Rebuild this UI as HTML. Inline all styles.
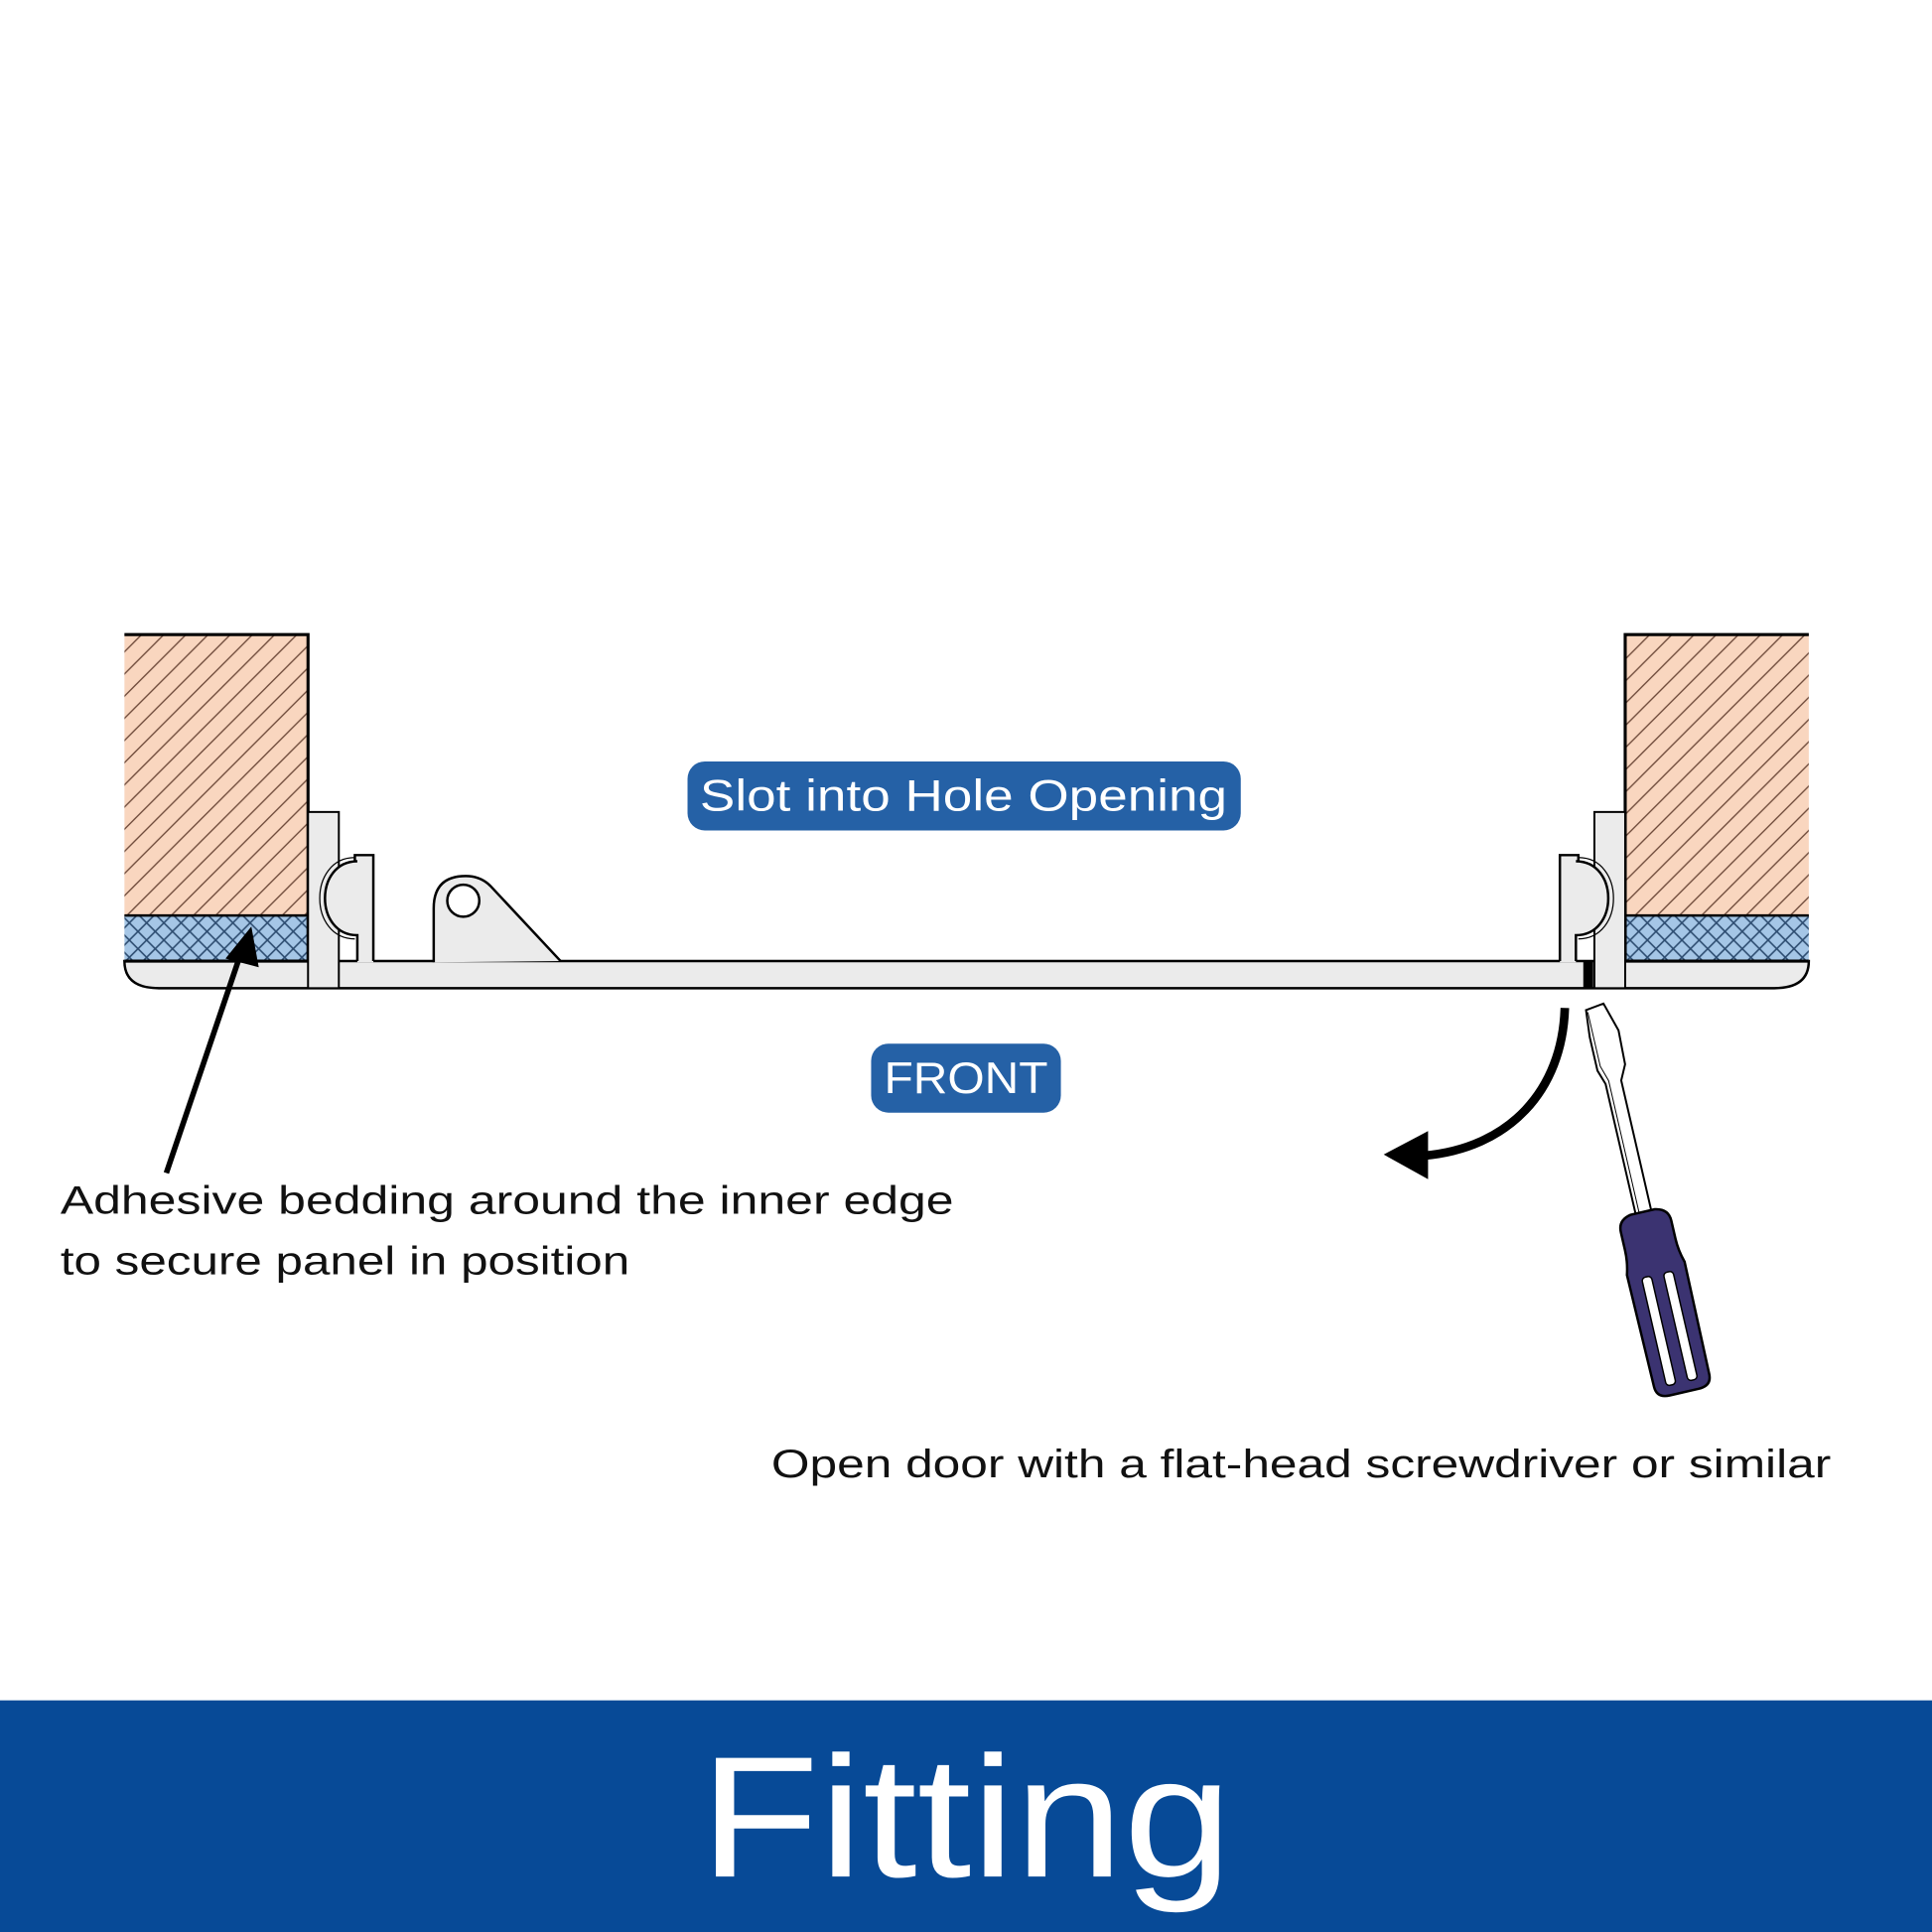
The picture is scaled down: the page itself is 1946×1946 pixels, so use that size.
<!DOCTYPE html>
<html><head><meta charset="utf-8"><style>
html,body{margin:0;padding:0;background:#fff}
svg{display:block}
</style></head><body>
<svg width="1946" height="1946" viewBox="0 0 1568 1568" xmlns="http://www.w3.org/2000/svg">
<defs>
<pattern id="hatch" patternUnits="userSpaceOnUse" width="18" height="18">
<rect width="18" height="18" fill="#f9d6bf"/>
<path d="M-1,1 L1,-1 M0,18 L18,0 M17,19 L19,17" stroke="#6e4a3a" stroke-width="1.1"/>
</pattern>
<pattern id="cross" patternUnits="userSpaceOnUse" width="14" height="14">
<rect width="14" height="14" fill="#a5c6e6"/>
<path d="M0,0 L14,14 M14,0 L0,14" stroke="#2d4c70" stroke-width="1.3"/>
</pattern>
<g id="clip">
<rect x="250" y="659" width="25" height="143" fill="#ebebeb" stroke="#000" stroke-width="1.6"/>
<path d="M290,781 L290,759 C255,759 255,699 290,699 L288,699 L288,694 L303,694 L303,781 Z" fill="#ebebeb"/>
<path d="M290,780 L290,759 C255,759 255,699 290,699 L288,699 L288,694 L303,694 L303,780" fill="none" stroke="#000" stroke-width="2"/>
<path d="M288,762 C250,762 250,696 288,696" fill="none" stroke="#000" stroke-width="1"/>
</g>
</defs>
<rect width="1568" height="1568" fill="#fff"/>
<path d="M101,780 H1468 Q1468,802 1440,802 H129 Q101,802 101,780 Z" fill="#ebebeb" stroke="#000" stroke-width="2"/>
<!-- left wall -->
<rect x="101" y="515" width="149" height="228" fill="url(#hatch)"/>
<rect x="101" y="743" width="149" height="37" fill="url(#cross)"/>
<path d="M101,515 H250 V780 H101" fill="none" stroke="#000" stroke-width="2.5"/>
<line x1="101" y1="743" x2="250" y2="743" stroke="#000" stroke-width="2"/>
<!-- right wall -->
<rect x="1319" y="515" width="149" height="228" fill="url(#hatch)"/>
<rect x="1319" y="743" width="149" height="37" fill="url(#cross)"/>
<path d="M1468,515 H1319 V780 H1468" fill="none" stroke="#000" stroke-width="2.5"/>
<line x1="1319" y1="743" x2="1468" y2="743" stroke="#000" stroke-width="2"/>
<use href="#clip"/>
<use href="#clip" transform="translate(1569,0) scale(-1,1)"/>
<rect x="1285" y="780" width="8" height="22" fill="#000"/>
<!-- lug -->
<path d="M352,781 L352,737 Q352,711 378,711 Q390,711 398,719 L455,780" fill="#ebebeb" stroke="#000" stroke-width="2"/>
<circle cx="376" cy="731" r="13" fill="#fff" stroke="#000" stroke-width="2"/>
<!-- left arrow -->
<line x1="135" y1="952" x2="194" y2="778" stroke="#000" stroke-width="4.5"/>
<polygon points="204,752 183,778 210,785" fill="#000"/>
<!-- curved arrow -->
<path d="M1270,818 C1268,885 1225,932 1155,938" fill="none" stroke="#000" stroke-width="7"/>
<polygon points="1123,937 1159,918 1159,957" fill="#000"/>
<!-- screwdriver -->
<g transform="translate(1295,818) rotate(-13)">
<path d="M-8,0 L7,-2 L14,22 L13,50 L7,62 L7,172 L-6,172 L-6,62 L-10,50 L-10,22 Z" fill="#fff" stroke="#000" stroke-width="1.6"/>
<path d="M-7,2 L-7,47 L-3,60 L-3,170" fill="none" stroke="#000" stroke-width="0.8"/>
<path d="M-10,170 L10,170 Q21,172 21,182 L21,197 Q21,207 24,217 L23,310 Q23,320 12,320 L-12,320 Q-23,320 -23,310 L-24,217 Q-21,207 -21,197 L-21,182 Q-21,172 -10,170 Z" fill="#3b3371" stroke="#000" stroke-width="2"/>
<rect x="-13" y="222" width="8" height="90" rx="3" fill="#fff" stroke="#000" stroke-width="1.2"/>
<rect x="5" y="222" width="8" height="90" rx="3" fill="#fff" stroke="#000" stroke-width="1.2"/>
</g>
<!-- pills -->
<rect x="558" y="618" width="449" height="56" rx="14" fill="#2561a6"/>
<text x="782" y="658" text-anchor="middle" font-family="Liberation Sans, sans-serif" font-size="36" fill="#fff" textLength="428" lengthAdjust="spacingAndGlyphs">Slot into Hole Opening</text>
<rect x="707" y="847" width="154" height="56" rx="14" fill="#2561a6"/>
<text x="784" y="887" text-anchor="middle" font-family="Liberation Sans, sans-serif" font-size="36" fill="#fff" textLength="133" lengthAdjust="spacingAndGlyphs">FRONT</text>
<!-- captions -->
<text x="49" y="985" font-family="Liberation Sans, sans-serif" font-size="32" fill="#111" textLength="725" lengthAdjust="spacingAndGlyphs">Adhesive bedding around the inner edge</text>
<text x="49" y="1034" font-family="Liberation Sans, sans-serif" font-size="32" fill="#111" textLength="462" lengthAdjust="spacingAndGlyphs">to secure panel in position</text>
<text x="626" y="1199" font-family="Liberation Sans, sans-serif" font-size="32" fill="#111" textLength="860" lengthAdjust="spacingAndGlyphs">Open door with a flat-head screwdriver or similar</text>
<!-- banner -->
<rect x="0" y="1380" width="1568" height="188" fill="#074a97"/>
<text x="784" y="1523" text-anchor="middle" font-family="Liberation Sans, sans-serif" font-size="140" fill="#fff" textLength="432" lengthAdjust="spacingAndGlyphs">Fitting</text>
</svg>
</body></html>
